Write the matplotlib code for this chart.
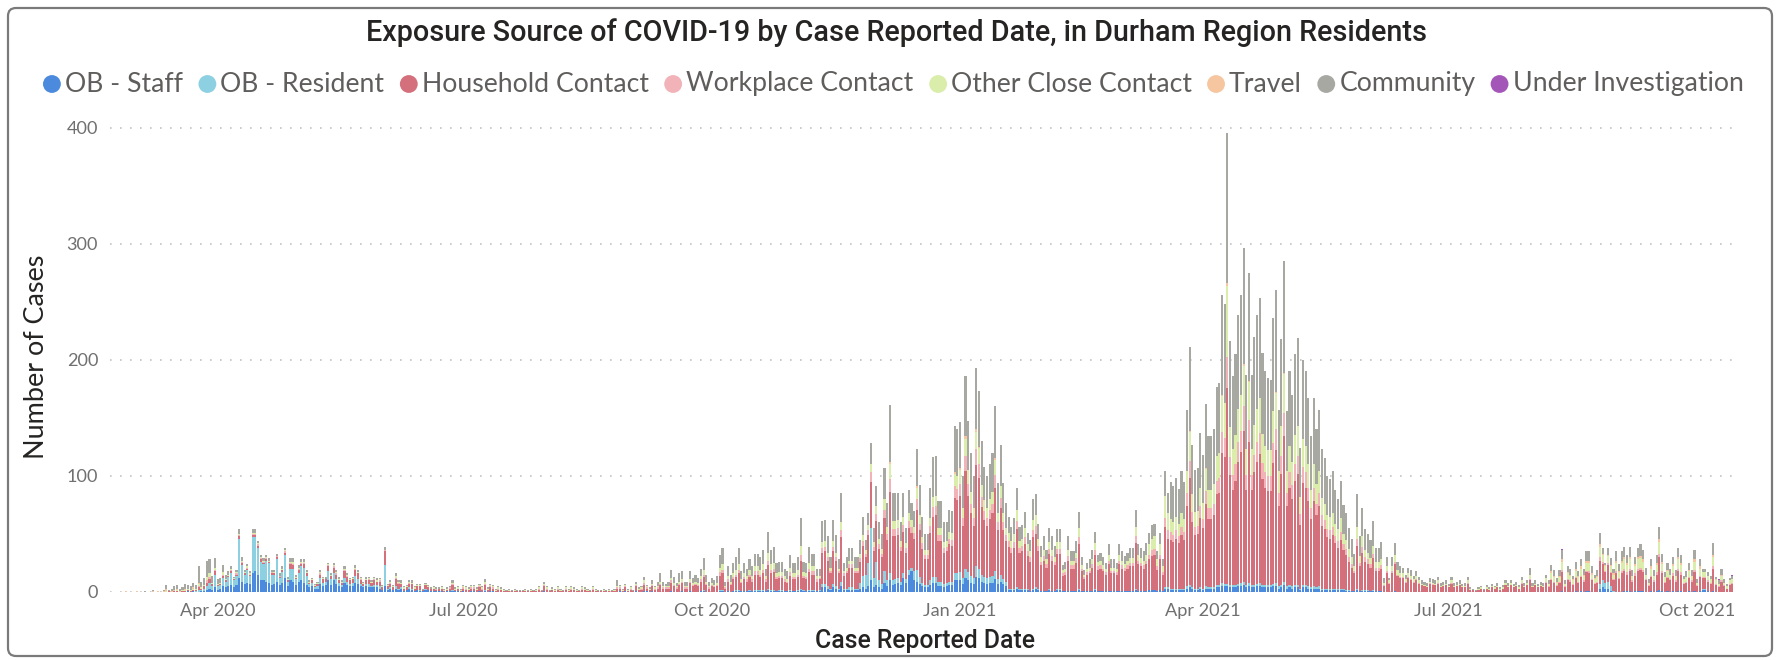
import matplotlib
matplotlib.use("Agg")
import matplotlib.pyplot as plt
import matplotlib.dates as mdates
from matplotlib import font_manager
from matplotlib.patches import Circle, FancyBboxPatch
from matplotlib.transforms import IdentityTransform
import numpy as np
import pandas as pd

# ---------------- data (daily counts from 2020-02-23) ----------------
start_date = "2020-02-23"

ob_staff = [
    0,0,0,0,0,0,0,0,0,0, 0,0,0,0,0,0,0,0,0,0, 0,0,0,0,0,0,0,1,0,1,
    0,0,1,1,2,3,2,4,2,3, 5,4,5,6,4,6,12,9,7,8, 7,16,18,15,10,10,9,8,6,7,
    9,6,8,12,5,10,9,6,9,10, 8,6,4,5,3,3,7,5,6,10, 6,10,7,5,4,8,6,5,5,8,
    7,5,4,5,4,4,4,4,3,2, 5,2,3,2,3,2,3,1,2,3, 2,1,2,1,1,2,2,1,1,1,
    1,1,0,1,1,1,1,1,0,1, 0,0,1,1,0,1,0,1,0,1, 1,0,0,0,0,0,0,0,0,0,
    0,0,0,0,0,0,0,0,0,1, 0,0,0,0,0,0,0,0,0,0, 0,0,0,0,0,0,0,0,0,0,
    0,0,0,0,0,0,0,1,0,1, 0,0,0,1,0,0,1,1,0,1, 0,0,0,0,0,0,1,0,0,0,
    1,0,0,1,0,0,0,1,1,0, 0,0,0,0,1,1,0,1,0,1, 1,1,1,1,1,1,1,1,1,1,
    1,1,2,1,1,1,1,1,1,1, 1,1,1,1,2,1,1,1,1,1, 1,1,4,4,3,2,4,3,2,5,
    2,2,2,2,2,2,3,4,3,5, 10,4,6,4,3,8,5,10,6,7, 8,6,12,8,15,18,10,9,7,5,
    4,4,6,8,8,5,5,4,5,6, 6,10,10,10,7,12,10,8,7,13, 12,9,8,7,8,8,11,7,9,7,
    5,2,2,2,3,2,2,2,2,1, 2,3,2,1,1,1,2,1,1,2, 2,1,1,1,1,1,1,2,1,1,
    1,1,1,2,1,1,1,1,1,1, 1,1,1,1,1,1,1,1,2,1, 1,1,1,2,2,2,1,2,1,3,
    3,2,2,2,2,2,2,3,4,3, 2,2,3,2,3,3,3,3,4,4, 5,5,5,4,4,4,5,5,6,4,
    5,4,4,5,5,4,4,4,4,5, 5,3,4,6,3,4,3,4,4,2, 4,4,3,3,3,3,3,2,2,2,
    2,2,2,2,2,2,1,1,1,1, 2,1,1,1,1,1,1,1,1,1, 0,0,0,0,1,0,0,0,0,0,
    0,0,0,0,0,0,0,0,0,0, 0,0,0,0,0,0,0,0,0,0, 0,0,0,0,0,0,0,0,0,0,
    0,0,0,0,0,0,0,0,0,0, 0,0,0,0,0,0,0,0,0,0, 0,0,0,0,0,0,1,0,0,0,
    0,1,0,1,0,1,1,0,0,0, 3,4,3,3,1,0,0,0,0,1, 1,1,0,1,1,1,1,0,0,1,
    0,1,2,1,0,1,0,1,0,1, 1,0,0,1,0,1,0,1,2,2, 1,0,1,0,0,0,0,0,0,0,
]

ob_resident = [
    0,0,0,0,0,0,0,0,0,0, 0,0,0,0,0,0,0,0,0,0, 0,0,0,0,0,0,0,0,0,0,
    1,2,1,2,3,5,3,11,3,3, 7,5,8,10,6,8,34,14,8,11, 7,31,29,23,16,14,18,17,9,8,
    19,6,9,20,4,10,11,5,7,12, 13,8,3,3,1,2,5,3,3,8, 5,6,4,3,2,4,3,2,3,6,
    4,2,1,2,3,1,2,2,2,0, 18,1,1,0,2,1,1,0,0,1, 1,0,0,1,0,1,0,0,0,0,
    0,0,0,0,0,1,0,0,0,0, 0,0,0,0,0,0,0,1,0,0, 0,0,0,0,0,0,0,0,0,0,
    0,0,0,0,0,0,0,0,0,0, 0,0,0,0,0,0,0,0,0,0, 0,0,0,0,0,0,0,0,0,0,
    0,0,0,0,0,0,0,0,0,0, 0,0,0,0,0,0,0,0,0,0, 0,0,0,0,0,0,0,0,0,0,
    0,0,0,0,0,0,0,0,1,0, 0,0,0,0,1,1,0,0,0,0, 1,1,0,0,0,1,0,1,1,1,
    1,0,1,1,1,0,1,1,0,0, 1,0,0,1,1,1,0,1,1,1, 0,1,3,3,2,1,3,2,1,4,
    1,1,2,2,1,1,5,10,12,20, 45,8,20,6,4,10,5,6,4,4, 4,3,4,3,4,3,8,10,6,3,
    2,2,4,5,5,4,4,3,3,3, 3,6,6,7,5,8,7,6,5,9, 8,6,5,5,5,6,7,4,6,4,
    4,1,1,1,1,1,1,1,1,0, 1,1,1,0,0,0,1,0,0,1, 1,0,0,0,0,0,0,1,0,0,
    0,0,0,1,0,0,0,0,0,0, 0,0,0,0,0,0,0,0,1,0, 0,0,0,0,0,0,0,0,0,1,
    1,1,1,1,1,1,1,2,2,1, 1,1,1,1,2,1,1,1,2,2, 3,2,2,2,2,2,2,3,3,2,
    3,2,2,2,3,2,2,2,2,2, 3,2,2,3,2,2,2,2,2,1, 2,2,2,1,2,1,2,1,1,1,
    1,1,1,1,1,1,1,1,0,0, 1,0,1,1,1,0,1,0,0,0, 0,0,0,0,0,0,0,0,0,0,
    0,0,0,0,0,0,0,0,0,0, 0,0,0,0,0,0,0,0,0,0, 0,0,0,0,0,0,0,0,0,0,
    0,0,0,0,0,0,0,0,0,0, 0,0,0,0,0,0,0,0,0,0, 0,0,0,0,0,0,0,0,0,0,
    0,0,0,0,0,0,0,0,0,0, 4,6,5,6,4,1,0,0,0,0, 0,0,0,0,0,0,0,0,0,0,
    0,0,0,0,0,0,0,0,0,0, 0,0,0,0,0,0,0,0,1,1, 0,0,0,0,0,0,0,0,0,0,
]

household = [
    0,0,0,0,0,0,0,0,0,0, 0,0,0,0,0,0,0,0,0,0, 1,0,1,1,0,1,1,1,1,1,
    1,2,1,2,3,3,2,3,1,1, 2,1,1,2,1,1,2,2,1,1, 1,2,2,2,2,1,1,1,1,1,
    2,1,2,2,1,4,3,1,3,2, 3,2,1,2,1,2,3,3,2,4, 3,5,4,2,2,6,4,3,3,5,
    5,3,2,3,3,3,4,3,4,2, 12,2,3,2,6,4,3,2,2,3, 4,2,3,3,1,3,2,2,2,1,
    2,2,1,1,2,4,1,2,1,2, 2,2,2,2,2,3,2,4,2,3, 2,1,2,2,1,1,1,1,1,1,
    1,1,1,1,1,1,1,2,1,4, 2,1,2,1,2,1,1,2,1,2, 2,1,1,2,2,1,1,2,1,1,
    1,1,1,1,1,1,3,2,1,3, 1,2,1,4,2,2,5,2,2,4, 2,3,6,3,3,3,7,5,3,6,
    7,3,3,7,5,6,5,8,11,6, 3,5,4,5,12,14,3,8,6,10, 11,14,7,10,8,11,8,13,13,11,
    14,8,20,14,15,10,10,10,8,7, 12,10,10,11,24,10,10,15,13,13, 8,9,27,28,22,13,28,22,13,38,
    11,13,17,17,13,13,18,26,15,24, 40,23,35,27,23,46,35,70,38,37, 37,26,36,23,36,30,28,52,40,29,
    22,22,41,52,53,35,35,27,27,32, 31,65,63,66,45,84,66,54,45,87, 78,58,49,45,50,54,72,42,57,42,
    35,36,31,35,50,31,32,38,28,25, 44,46,32,22,26,20,30,26,22,30, 30,13,14,26,19,19,24,38,17,10,
    14,15,20,29,18,19,17,14,23,15, 15,14,23,19,17,19,21,21,39,23, 21,19,23,26,29,30,18,26,14,52,
    42,42,40,43,39,46,42,69,92,56, 46,47,60,52,71,59,59,62,78,79, 112,109,169,95,82,90,105,113,130,82,
    121,82,97,105,111,91,84,81,81,104, 114,69,96,125,69,84,75,90,96,55, 88,84,73,59,73,62,69,54,51,44,
    43,46,39,35,42,33,30,24,20,15, 37,21,32,24,22,20,27,17,17,19, 5,16,7,16,23,14,12,12,8,12,
    10,8,10,7,6,5,4,7,6,6, 7,4,5,6,4,7,4,5,6,4, 4,7,2,2,1,2,3,2,3,2,
    4,3,4,2,3,6,4,6,4,5, 3,7,4,6,10,4,6,4,5,4, 8,4,10,8,5,8,16,4,10,9,
    6,11,8,12,9,16,15,10,7,8, 20,14,9,14,11,9,16,11,16,17, 14,17,9,13,17,18,16,10,5,12,
    9,14,28,15,8,11,10,13,9,17, 14,7,8,11,9,16,5,12,9,9, 8,7,19,6,4,9,5,3,6,7,
]

workplace = [
    0,0,0,0,0,0,0,0,0,0, 0,0,0,0,0,0,0,0,0,0, 0,0,0,0,0,0,0,0,0,0,
    0,1,0,0,2,2,0,1,0,0, 1,0,0,1,0,1,1,1,0,1, 0,1,1,1,1,1,1,0,1,0,
    1,1,0,1,0,1,1,0,1,1, 1,0,0,0,0,0,1,0,0,1, 0,1,1,0,0,1,1,0,0,1,
    0,1,0,0,1,0,1,0,1,0, 1,0,1,0,1,1,0,0,0,1, 0,0,0,0,0,0,0,0,0,1,
    0,0,0,0,1,1,0,0,0,1, 1,0,1,1,0,1,1,1,0,1, 1,0,1,0,0,0,0,0,0,0,
    0,0,0,0,0,0,0,1,0,1, 1,0,0,0,1,0,0,1,0,1, 0,0,0,1,0,0,0,1,0,0,
    0,0,0,0,0,0,1,1,0,1, 0,1,0,1,0,1,2,1,0,1, 1,1,1,1,1,1,2,1,1,1,
    1,1,1,1,1,1,1,2,2,1, 1,1,1,1,3,3,1,2,1,2, 2,3,1,2,2,2,2,3,3,2,
    3,2,4,3,3,2,2,2,2,1, 3,2,2,2,5,2,2,3,3,3, 2,1,4,4,3,2,4,3,2,6,
    2,2,3,3,2,2,3,4,3,4, 8,4,6,4,3,7,5,11,6,6, 6,4,6,4,6,5,5,9,6,5,
    4,4,6,8,8,5,5,4,4,5, 5,10,10,10,7,13,10,8,7,14, 12,9,8,7,8,8,11,7,9,7,
    5,5,4,5,7,4,5,6,4,4, 6,7,5,3,4,3,4,4,3,4, 4,2,2,4,3,3,4,6,2,2,
    2,2,3,4,3,3,2,2,3,2, 2,2,3,3,3,3,3,3,6,3, 3,3,3,4,5,5,3,4,2,8,
    7,7,6,7,6,7,7,11,15,9, 7,7,10,8,11,9,9,10,12,13, 18,17,26,15,13,14,17,18,21,13,
    19,13,15,17,18,14,13,13,13,17, 18,11,15,20,11,13,12,14,15,9, 14,13,12,9,12,10,11,9,8,7,
    7,7,6,6,7,5,5,4,3,2, 6,3,5,4,4,3,4,3,3,3, 1,2,1,2,2,1,1,1,1,1,
    1,1,1,1,0,0,0,1,1,0, 1,0,0,0,0,1,0,0,0,0, 0,1,0,0,0,0,0,0,0,0,
    0,0,0,0,0,0,0,0,0,0, 0,1,0,0,1,0,0,0,0,0, 1,1,1,1,1,1,2,1,1,1,
    1,1,1,1,1,1,2,1,1,1, 3,2,1,2,1,1,2,1,2,2, 2,2,1,2,2,2,2,1,1,1,
    1,2,3,2,1,1,1,2,1,2, 2,1,1,1,1,2,1,1,1,1, 1,1,2,1,1,1,1,0,1,1,
]

other_close = [
    0,0,0,0,0,0,0,0,0,0, 0,0,0,0,0,0,0,0,0,1, 0,0,0,1,0,1,1,1,1,1,
    1,2,1,1,3,3,1,2,1,1, 2,1,1,1,1,1,1,1,1,1, 1,1,1,1,1,1,1,1,0,1,
    0,0,1,1,1,1,2,1,1,1, 1,1,1,1,1,1,1,1,0,1, 1,1,1,1,1,1,1,1,1,1,
    1,1,1,1,1,1,1,1,1,1, 0,1,1,1,2,1,1,1,1,1, 1,1,1,1,0,1,1,0,1,0,
    0,1,1,1,0,1,1,1,1,1, 1,1,1,1,1,1,1,2,1,1, 1,1,1,1,1,0,1,0,1,0,
    0,0,1,0,1,0,1,1,0,1, 1,0,1,1,1,1,0,1,1,1, 1,1,0,1,1,1,0,1,1,0,
    0,1,0,1,0,1,1,1,1,1, 1,1,0,1,1,1,2,1,1,1, 1,1,2,1,1,1,2,2,1,2,
    2,1,1,2,2,2,2,3,4,2, 1,2,1,2,4,5,1,3,2,3, 4,5,2,3,3,4,3,4,4,4,
    5,3,7,5,5,3,3,3,3,2, 4,3,3,4,8,3,3,5,4,4, 3,2,5,5,4,3,5,4,2,7,
    2,3,3,3,3,3,4,5,3,5, 7,4,7,5,4,9,6,13,7,7, 7,5,7,4,7,6,5,10,7,5,
    4,4,7,9,9,6,6,5,5,6, 6,11,11,12,8,15,12,10,8,15, 14,10,9,8,9,10,13,8,10,8,
    6,7,6,7,10,6,6,8,6,5, 9,9,6,4,5,4,6,5,4,6, 6,3,3,5,4,4,5,8,3,2,
    3,3,4,6,4,4,3,3,5,3, 3,3,5,4,3,4,4,4,8,5, 4,4,5,9,10,11,6,9,5,19,
    15,11,11,12,11,12,11,19,25,15, 13,13,16,14,19,16,16,17,21,22, 31,30,62,26,22,25,29,31,35,22,
    33,22,26,29,30,25,23,22,22,28, 31,19,26,34,19,23,20,25,26,15, 24,23,20,16,20,17,19,15,14,12,
    12,12,11,10,12,9,8,7,6,4, 10,6,9,6,6,5,7,5,5,5, 2,4,2,4,6,4,3,3,2,3,
    3,2,3,2,1,1,1,1,1,1, 2,1,1,1,1,2,1,1,1,1, 1,2,1,0,0,1,1,0,1,1,
    1,1,1,1,1,2,1,2,1,1, 1,2,1,2,4,1,1,1,1,1, 3,2,5,4,2,4,7,2,5,4,
    3,5,4,6,4,7,7,4,3,4, 9,6,4,6,5,4,7,5,7,8, 6,8,4,6,8,8,7,4,2,6,
    4,6,10,6,4,5,4,6,4,8, 6,3,4,5,4,7,2,6,4,4, 4,3,8,3,2,4,2,2,3,3,
]

community = [
    0,0,0,0,0,0,0,0,0,0, 0,1,0,0,1,0,0,0,1,3, 1,2,3,3,2,2,4,3,3,4,
    3,14,5,6,14,12,6,8,4,4, 6,4,3,2,1,2,4,3,2,2, 2,3,3,2,2,2,2,2,2,2,
    2,2,2,2,2,3,3,2,2,2, 2,2,1,1,1,1,2,1,2,1, 1,2,2,2,1,2,1,1,1,2,
    2,1,1,2,1,1,1,2,1,1, 3,1,1,1,2,1,2,1,1,1, 2,1,1,1,1,1,1,1,1,1,
    1,1,1,1,1,2,1,1,1,1, 1,1,1,1,1,1,1,2,1,1, 1,1,1,1,1,1,1,1,1,1,
    1,1,1,1,1,1,1,1,1,2, 1,1,1,1,1,1,1,1,1,1, 1,1,1,1,1,1,1,1,1,1,
    1,1,1,1,1,1,5,1,1,1, 1,1,1,2,1,1,3,1,1,3, 1,4,7,4,2,4,7,5,3,7,
    7,4,4,7,4,6,4,6,10,6, 4,4,4,6,11,14,4,8,6,9, 11,14,7,9,6,9,8,11,11,11,
    12,6,18,12,14,9,9,9,6,7, 11,9,9,11,24,9,9,14,11,11, 6,6,18,18,14,9,18,15,8,25,
    7,9,11,11,9,9,12,16,9,10, 18,12,17,14,13,27,21,49,24,24, 23,16,20,13,20,15,14,32,26,18,
    14,14,26,34,34,23,23,17,16,19, 19,40,40,39,28,52,42,34,28,53, 48,38,29,28,30,34,45,26,36,26,
    22,14,12,14,19,12,12,14,10,10, 18,18,13,10,12,8,12,12,10,11, 11,4,6,12,8,8,10,14,7,4,
    5,7,8,10,6,7,7,5,9,7, 7,5,9,8,7,7,9,9,15,9, 9,8,10,10,12,11,7,10,6,21,
    17,32,31,33,30,36,32,53,72,43, 36,37,47,41,55,46,46,47,60,60, 86,85,129,74,63,70,81,86,100,64,
    93,64,76,81,86,70,64,62,61,80, 88,53,75,96,52,64,58,70,76,42, 68,64,57,46,57,47,53,42,39,34,
    32,36,29,26,32,25,23,18,16,11, 28,17,24,18,16,16,21,12,12,15, 4,8,2,8,10,7,6,5,4,5,
    5,3,4,3,3,3,3,3,3,3, 3,3,3,3,2,3,3,3,3,2, 3,3,1,1,1,1,1,1,2,1,
    2,1,3,1,2,2,3,2,2,3, 2,3,3,2,6,3,3,2,3,3, 3,3,5,5,3,5,8,3,5,5,
    3,6,4,6,5,8,8,6,3,5, 10,5,2,6,6,4,8,6,8,9, 7,9,5,6,8,10,8,6,3,6,
    5,7,10,7,4,6,5,6,5,8, 7,3,5,6,5,8,3,6,3,3, 3,3,10,2,3,5,3,2,2,3,
]

travel_dates = [
    "2020-02-27", "2020-03-02", "2020-03-08", "2020-03-10", "2020-03-12", "2020-03-13",
    "2020-03-15", "2020-03-16", "2020-03-17", "2020-03-18", "2020-03-20", "2020-03-23",
    "2020-03-25", "2020-12-06", "2020-12-16", "2020-12-30", "2021-01-01", "2021-01-03",
    "2021-01-07", "2021-01-08", "2021-01-14", "2021-03-27", "2021-04-02", "2021-04-08",
    "2021-04-10", "2021-04-16", "2021-04-18", "2021-04-28", "2021-05-01",
    "2021-08-08", "2021-08-09", "2021-08-10", "2021-08-11", "2021-08-12", "2021-08-14",
    "2021-08-15", "2021-08-16", "2021-08-17", "2021-08-18", "2021-08-19", "2021-08-20",
    "2021-08-21", "2021-08-22", "2021-08-23", "2021-08-24", "2021-08-25", "2021-08-26",
    "2021-08-27", "2021-08-28", "2021-08-29", "2021-08-30", "2021-08-31", "2021-09-01",
    "2021-09-02", "2021-09-03", "2021-09-04", "2021-09-05", "2021-09-06", "2021-09-08",
    "2021-09-09", "2021-09-10", "2021-09-11", "2021-09-14", "2021-09-16", "2021-09-17",
    "2021-09-18", "2021-09-20", "2021-09-22", "2021-09-24", "2021-09-25", "2021-09-28",
    "2021-09-30", "2021-10-02", "2021-10-07", "2021-10-08", "2021-10-10",
]
travel_values = [
    1, 1, 1, 1, 1, 2, 1, 1, 1, 1, 1, 1, 1, 2, 1, 1, 2, 2, 2, 1, 1, 1, 1, 1, 2, 1, 1, 1, 1,
    2, 1, 1, 1, 2, 1, 1, 1, 2, 1, 2, 1, 2, 2, 1, 1, 1, 2, 1, 1, 1, 1, 1, 2, 1, 2, 2, 2, 2, 2,
    2, 2, 2, 2, 2, 3, 2, 1, 2, 2, 2, 1, 2, 2, 2, 1, 1,
]

under_investigation_dates = ["2021-08-12", "2021-10-09", "2021-10-14"]
under_investigation_values = [1, 1, 1]

series_names = ["OB - Staff", "OB - Resident", "Household Contact", "Workplace Contact",
                "Other Close Contact", "Travel", "Community", "Under Investigation"]
series_colors = ["#4B8ADC", "#8CD0E2", "#D4707B", "#F2B3B8", "#DAEDAB", "#F5C6A0",
                 "#A8A8A3", "#A455B8"]

tick_dates = ["2020-04-01", "2020-07-01", "2020-10-01", "2021-01-01",
              "2021-04-01", "2021-07-01", "2021-10-01"]
tick_labels = ["Apr 2020", "Jul 2020", "Oct 2020", "Jan 2021",
               "Apr 2021", "Jul 2021", "Oct 2021"]
y_ticks = [0, 100, 200, 300, 400]

title_text = "Exposure Source of COVID-19 by Case Reported Date, in Durham Region Residents"
x_title = "Case Reported Date"
y_title = "Number of Cases"

# ---------------- checks & assembling ----------------
n = len(ob_staff)
for nm, lst in [("ob_resident", ob_resident), ("household", household), ("workplace", workplace),
                ("other_close", other_close), ("community", community)]:
    if len(lst) != n:
        raise SystemExit(f"length mismatch {nm}: {len(lst)} vs {n}")

dates = pd.date_range(start_date, periods=n, freq="D")
travel = pd.Series(travel_values, index=pd.to_datetime(travel_dates)).reindex(dates, fill_value=0)
uninv = pd.Series(under_investigation_values,
                  index=pd.to_datetime(under_investigation_dates)).reindex(dates, fill_value=0)
stack = [ob_staff, ob_resident, household, workplace, other_close,
         travel.values.tolist(), community, uninv.values.tolist()]

# ---------------- fonts ----------------
ttf = font_manager.fontManager.ttflist
avail = {f.name for f in ttf}
def pick(*names):
    for nm in names:
        if nm in avail:
            return nm
    return "DejaVu Sans"
TITLE_FONT = pick("Roboto", "Open Sans", "DejaVu Sans")
title_weights = {f.weight for f in ttf if f.name == TITLE_FONT}
TITLE_WEIGHT = 500 if (500 in title_weights or "medium" in title_weights) else "normal"
BODY_FONT = pick("Lato", "Open Sans", "Noto Sans", "DejaVu Sans")

W, H = 1780, 660
fig = plt.figure(figsize=(W / 100, H / 100), dpi=100)
fig.patch.set_facecolor("white")

# axes placement (pixels): x from 110 to 1740, y from 116 (top) to 592 (baseline)
ax_left, ax_right, ax_top, ax_bottom = 110, 1740, 116, 592
ax = fig.add_axes([ax_left / W, (H - ax_bottom) / H, (ax_right - ax_left) / W,
                   (ax_bottom - ax_top) / H])

x = mdates.date2num(dates)
bottom = np.zeros(n)
for vals, col in zip(stack, series_colors):
    v = np.asarray(vals, dtype=float)
    ax.bar(x, v, width=0.78, bottom=bottom, color=col, linewidth=0, align="center", zorder=3)
    bottom += v

x0 = mdates.date2num(pd.Timestamp(start_date))
ax.set_xlim(x0 - 1.85, x0 + 601.85)
ax.set_ylim(0, 410)
ax.set_yticks(y_ticks)
ax.set_xticks(mdates.date2num(pd.to_datetime(tick_dates)))
ax.set_xticklabels(tick_labels)
for s in ax.spines.values():
    s.set_visible(False)
ax.yaxis.grid(True, linestyle=(0, (1, 5)), color="#C4C4C4", linewidth=1.2, zorder=0)
ax.set_axisbelow(True)

fig.canvas.draw()
r = fig.canvas.get_renderer()

def width_of(txt, size, family, weight="normal"):
    t = fig.text(0, 0, txt, fontsize=size, family=family, fontweight=weight)
    w = t.get_window_extent(r).width
    t.remove()
    return w

tick_size = 10 * 76 / width_of("Apr 2020", 10, BODY_FONT)
ax.tick_params(axis="both", length=0, labelsize=tick_size, labelcolor="#707070")
ax.tick_params(axis="y", pad=8.5)
ax.tick_params(axis="x", pad=8)
for lab in ax.get_xticklabels() + ax.get_yticklabels():
    lab.set_family(BODY_FONT)

# title
tsize = 16 * 1061 / width_of(title_text, 16, TITLE_FONT, TITLE_WEIGHT)
fig.text(897 / W, (H - 33) / H, title_text, ha="center", va="center", fontsize=tsize,
         family=TITLE_FONT, fontweight=TITLE_WEIGHT, color="#252423")

# axis titles
xs = 14 * 220 / width_of(x_title, 14, TITLE_FONT, TITLE_WEIGHT)
fig.text(925 / W, (H - 641) / H, x_title, ha="center", va="center", fontsize=xs,
         family=TITLE_FONT, fontweight=TITLE_WEIGHT, color="#252423")
ys = 14 * 205 / width_of(y_title, 14, BODY_FONT)
fig.text(37 / W, (H - 357) / H, y_title, ha="center", va="center", rotation=90,
         fontsize=ys, family=BODY_FONT, color="#252423")

# legend (manual layout, fitted to span 43..1744 px)
base = 14.0
tw = [width_of(s, base, BODY_FONT) for s in series_names]
D0, g1, g2 = 13.0, 3.0, 11.0
total = sum(tw) + len(tw) * (D0 + g1) + (len(tw) - 1) * g2
scale = (1744 - 43) / total
fs = base * scale
xcur = 43.0
ly = H - 84
for name, col, w in zip(series_names, series_colors, tw):
    D = D0 * scale
    fig.add_artist(Circle((xcur + D / 2, ly), D / 2, transform=IdentityTransform(),
                          facecolor=col, edgecolor="none"))
    xcur += D + g1 * scale
    fig.text(xcur / W, ly / H, name, ha="left", va="center", fontsize=fs,
             family=BODY_FONT, color="#605E5C")
    xcur += w * scale + g2 * scale

# outer rounded frame
fig.add_artist(FancyBboxPatch((8, 4), W - 16, H - 12,
                              boxstyle="round,pad=0,rounding_size=8",
                              transform=IdentityTransform(), facecolor="none",
                              edgecolor="#7A7A7A", linewidth=1.6))

fig.savefig("out.png", dpi=100, facecolor="white")
